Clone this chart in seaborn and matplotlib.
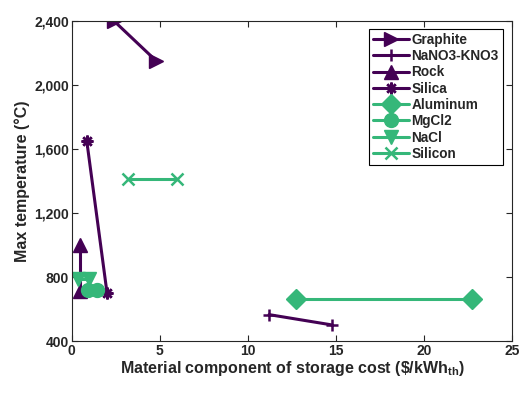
import matplotlib
matplotlib.use("Agg")
import matplotlib.pyplot as plt
import matplotlib.ticker as mticker
import seaborn as sns
import pandas as pd

materials = ["Graphite", "NaNO3-KNO3", "Rock", "Silica", "Aluminum", "MgCl2", "NaCl", "Silicon"]
cost_x = {
    "Graphite": [2.4, 4.8],
    "NaNO3-KNO3": [11.2, 14.8],
    "Rock": [0.45, 0.45],
    "Silica": [0.85, 2.0],
    "Aluminum": [12.7, 22.7],
    "MgCl2": [0.9, 1.45],
    "NaCl": [0.35, 1.0],
    "Silicon": [3.2, 6.0],
}
temp_y = {
    "Graphite": [2400, 2150],
    "NaNO3-KNO3": [565, 500],
    "Rock": [1000, 710],
    "Silica": [1650, 700],
    "Aluminum": [660, 660],
    "MgCl2": [720, 720],
    "NaCl": [790, 790],
    "Silicon": [1414, 1414],
}
x_ticks = [0, 5, 10, 15, 20, 25]
y_ticks = [400, 800, 1200, 1600, 2000, 2400]
x_tick_labels = ["0", "5", "10", "15", "20", "25"]
y_tick_labels = ["400", "800", "1,200", "1,600", "2,000", "2,400"]

purple = "#440154"
green = "#35b779"
palette = {m: (purple if i < 4 else green) for i, m in enumerate(materials)}
markers = {"Graphite": ">", "NaNO3-KNO3": "+", "Rock": "^", "Silica": (8, 2, 0),
           "Aluminum": "D", "MgCl2": "o", "NaCl": "v", "Silicon": "x"}

rows = []
for m in materials:
    for x, y in zip(cost_x[m], temp_y[m]):
        rows.append({"Material": m, "cost": x, "temp": y})
df = pd.DataFrame(rows)

sns.set_style("ticks")
plt.rcParams["font.family"] = ["Liberation Sans", "DejaVu Sans"]
plt.rcParams["font.weight"] = "bold"
plt.rcParams["mathtext.fontset"] = "custom"
plt.rcParams["mathtext.rm"] = "Liberation Sans:bold"
plt.rcParams["mathtext.bf"] = "Liberation Sans:bold"

fig = plt.figure(figsize=(5.28, 3.97), dpi=100)
ax = fig.add_axes([0.136, 0.141, 0.834, 0.806])

for m in materials:
    sub = df[df["Material"] == m]
    mk = markers[m]
    line_art = mk in ("+", "x") or isinstance(mk, tuple)
    sns.lineplot(data=sub, x="cost", y="temp", sort=False, estimator=None,
                 color=palette[m], marker=mk, label=m, linewidth=2.2,
                 markersize=8.5 if line_art else 10,
                 markeredgewidth=1.8 if line_art else 1.0,
                 markeredgecolor=palette[m], markerfacecolor=palette[m], ax=ax)

ax.set_xlim(0, 25)
ax.set_ylim(400, 2400)
ax.set_xticks(x_ticks, labels=x_tick_labels, fontweight="bold", fontsize=10)
ax.set_yticks(y_ticks, labels=y_tick_labels, fontweight="bold", fontsize=10)
ax.tick_params(direction="in", top=True, right=True, length=4, width=0.8, pad=2)
for s in ax.spines.values():
    s.set_linewidth(0.8)

ax.set_xlabel(r"Material component of storage cost (\$/kWh$_{\mathbf{th}}$)",
              fontsize=11.5, fontweight="bold", labelpad=1)
ax.set_ylabel("Max temperature (°C)", fontsize=11.5, fontweight="bold", labelpad=3)

leg = ax.legend(loc="upper right", bbox_to_anchor=(0.985, 0.985), fontsize=9.8,
                frameon=True, fancybox=False, edgecolor="black", handlelength=2.6,
                borderpad=0.3, labelspacing=0.17, handletextpad=0.2, borderaxespad=0.2)
leg.get_frame().set_linewidth(0.8)
leg.get_frame().set_alpha(1)
for t in leg.get_texts():
    t.set_fontweight("bold")

fig.savefig("out.png", dpi=100)
